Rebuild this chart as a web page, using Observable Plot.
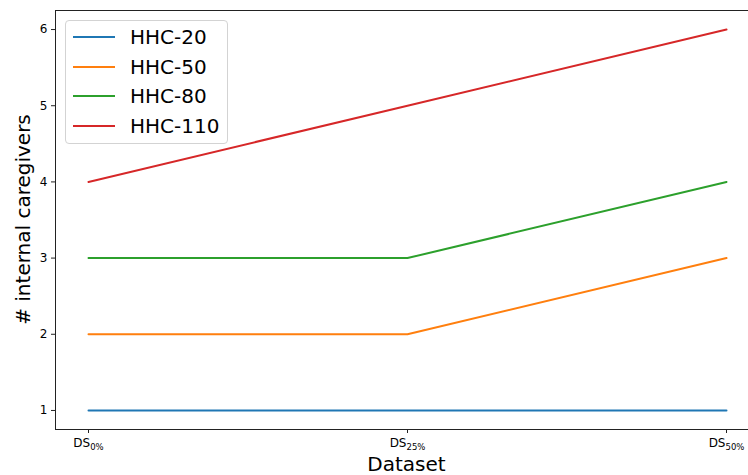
<!DOCTYPE html>
<html><head><meta charset="utf-8">
<script src="https://cdn.jsdelivr.net/npm/d3@7"></script>
<script src="https://cdn.jsdelivr.net/npm/@observablehq/plot@0.6"></script>
<style>
body{margin:0;background:#fff;overflow:hidden;font-family:"DejaVu Sans",sans-serif;}
#wrap{position:relative;width:748px;height:475px;overflow:hidden;}
.legend{position:absolute;left:65px;top:20px;width:161px;height:122px;border:1px solid #d3d3d3;border-radius:4px;background:rgba(255,255,255,0.8);font-family:"DejaVu Sans",sans-serif;font-size:20px;color:#000;}
.legend .row{position:absolute;left:0;height:24px;width:100%;}
.legend .sw{position:absolute;left:7px;top:11px;width:42px;height:2px;}
.legend .lb{position:absolute;left:64px;top:0;line-height:24px;white-space:nowrap;}
</style>
</head><body>
<div id="wrap"></div>
<script>
const datasets = ["0%", "25%", "50%"];
const seriesNames = ["HHC-20", "HHC-50", "HHC-80", "HHC-110"];
const hhc20 = [1, 1, 1];
const hhc50 = [2, 2, 3];
const hhc80 = [3, 3, 4];
const hhc110 = [4, 5, 6];
const seriesColors = ["#1f77b4", "#ff7f0e", "#2ca02c", "#d62728"];
const yTicks = [1, 2, 3, 4, 5, 6];
const xLabel = "Dataset";
const yLabel = "# internal caregivers";

const allSeries = [hhc20, hhc50, hhc80, hhc110];
const rows = [];
allSeries.forEach((vals, i) => vals.forEach((v, j) => rows.push({s: seriesNames[i], ds: datasets[j], v})));

const chart = Plot.plot({
  width: 748, height: 475,
  marginLeft: 55, marginRight: -10, marginTop: 10, marginBottom: 46,
  style: {overflow: "hidden", fontFamily: "DejaVu Sans", background: "white"},
  x: {type: "point", domain: datasets, range: [87, 726], padding: 0},
  y: {domain: [0.75, 6.25]},
  color: {domain: seriesNames, range: seriesColors},
  marks: [
    Plot.line(rows, {x: "ds", y: "v", z: "s", stroke: "s", strokeWidth: 2}),
    Plot.frame({stroke: "#222", strokeWidth: 1}),
    Plot.axisY({ticks: yTicks, tickFormat: d3.format("d"), tickSize: 4, tickPadding: 4, fontSize: 12, label: null, stroke: "#222", fill: "#000"}),
    Plot.axisX({tickSize: 4, tickPadding: 5, fontSize: 12, label: null, tickFormat: d => "DS" + d, stroke: "#222", fill: "#000"})
  ]
});
document.getElementById("wrap").appendChild(chart);

// subscripts on x tick labels
d3.select(chart).selectAll('g[aria-label="x-axis tick label"] text').each(function() {
  const t = d3.select(this);
  const full = t.text();
  const sub = full.slice(2);
  t.text(null);
  t.append("tspan").text("DS");
  t.append("tspan").attr("font-size", "8.5px").attr("dy", "0.3em").text(sub);
});

const svg = d3.select(chart);
svg.append("text").attr("x", 406.5).attr("y", 470.5).attr("text-anchor", "middle")
  .attr("font-size", 20).attr("font-family", "DejaVu Sans").attr("fill", "#000").text(xLabel);
svg.append("text").attr("transform", "translate(29.5,219.5) rotate(-90)").attr("text-anchor", "middle")
  .attr("font-size", 20).attr("font-family", "DejaVu Sans").attr("fill", "#000").text(yLabel);

// legend
const lg = d3.select("#wrap").append("div").attr("class", "legend");
seriesNames.forEach((n, i) => {
  const r = lg.append("div").attr("class", "row").style("top", (4 + i * 29.6) + "px");
  r.append("div").attr("class", "sw").style("background", seriesColors[i]);
  r.append("div").attr("class", "lb").text(n);
});
</script>
</body></html>
